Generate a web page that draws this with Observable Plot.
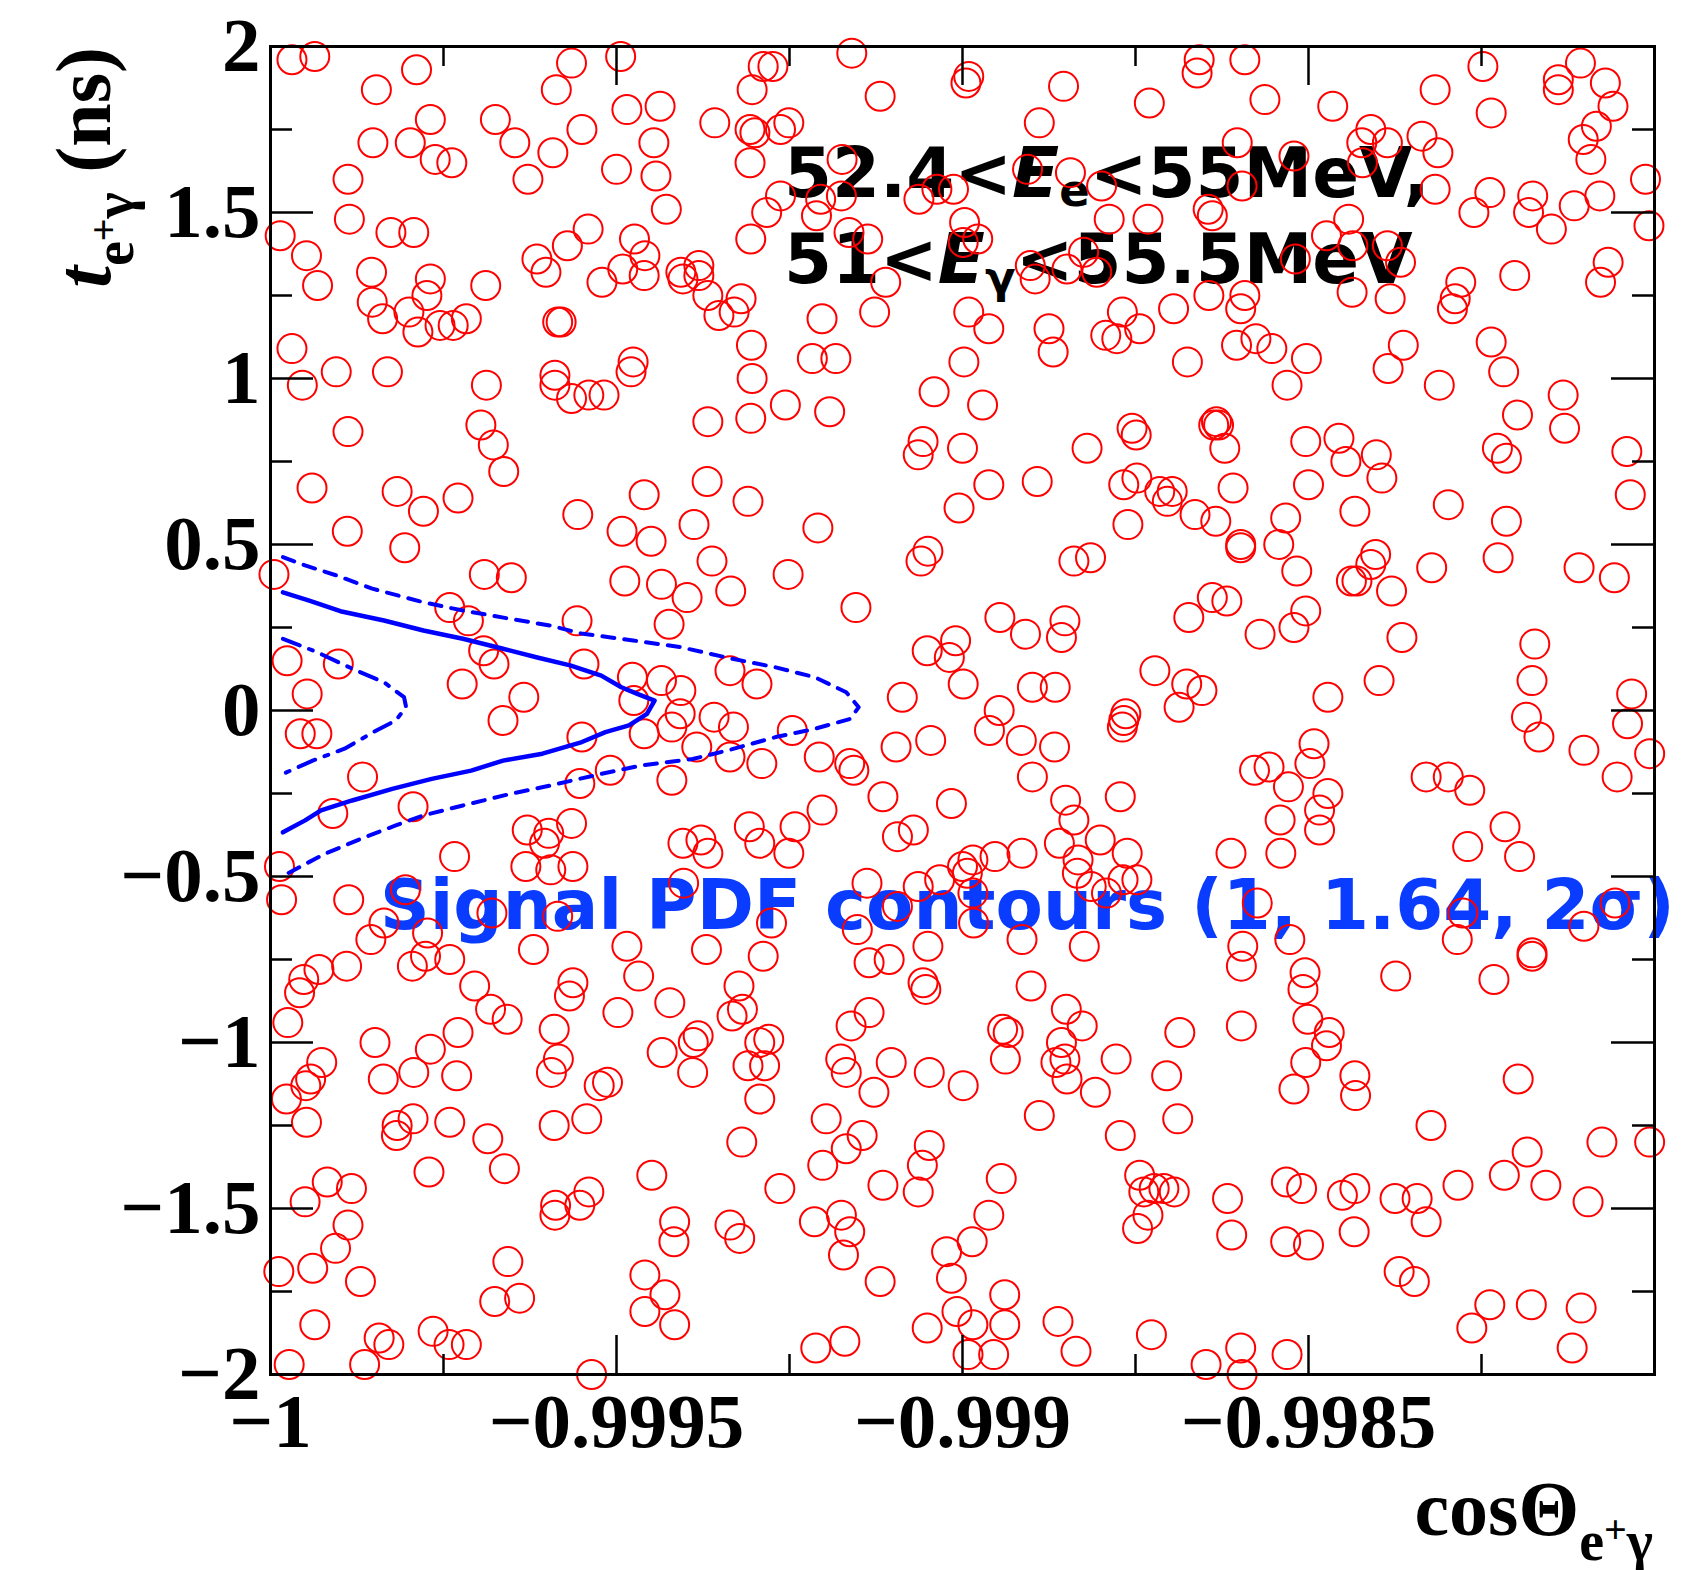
<!DOCTYPE html>
<html><head><meta charset="utf-8">
<script src="https://cdn.jsdelivr.net/npm/d3@7"></script>
<script src="https://cdn.jsdelivr.net/npm/@observablehq/plot@0.6"></script>
<style>html,body{margin:0;padding:0;background:#fff;} #chart svg{display:block;}</style>
</head><body><div id="chart"></div>
<script>
// ---- axis ticks ----
const xLabelTicks = [-1, -0.9995, -0.999, -0.9985];
const xMajorTicks = [-0.9995, -0.999, -0.9985];
const xMinorTicks = [-0.99975, -0.99925, -0.99875, -0.99825];
const yMajorTicks = [-2, -1.5, -1, -0.5, 0, 0.5, 1, 1.5, 2];
const yMinorTicks = [-1.75, -1.25, -0.75, -0.25, 0.25, 0.75, 1.25, 1.75];

// ---- events [cosTheta, t (ns)] ----
const eventsUpperLeft = [
[-0.999969,1.96],[-0.999936,1.97],[-0.999789,1.93],[-0.999847,1.87],[-0.999565,1.95],[-0.999494,1.97],[-0.999587,1.87],
[-0.999769,1.78],[-0.999675,1.78],[-0.999485,1.81],[-0.999437,1.82],[-0.999358,1.77],[-0.999852,1.71],[-0.999798,1.71],
[-0.999762,1.66],[-0.999738,1.65],[-0.999647,1.71],[-0.999592,1.68],[-0.999550,1.75],[-0.999446,1.71],[-0.999888,1.60],
[-0.999628,1.60],[-0.999500,1.63],[-0.999443,1.61],[-0.999428,1.51],[-0.999886,1.48],[-0.999986,1.43],[-0.999826,1.44],
[-0.999793,1.44],[-0.999948,1.37],[-0.999541,1.45],[-0.999571,1.40],[-0.999615,1.36],[-0.999602,1.32],[-0.999474,1.42],
[-0.999459,1.37],[-0.999491,1.33],[-0.999460,1.31],[-0.999521,1.29],[-0.999854,1.32],[-0.999769,1.30],[-0.999932,1.28],
[-0.999689,1.28],[-0.999774,1.25],[-0.999853,1.23],[-0.999800,1.20],[-0.999838,1.18],[-0.999787,1.14],[-0.999755,1.16],
[-0.999736,1.16],[-0.999717,1.18],[-0.999585,1.17],[-0.999580,1.17],[-0.999407,1.32],[-0.999381,1.34],[-0.999404,1.30],
[-0.999381,1.31],[-0.999368,1.25],[-0.999352,1.19],[-0.999969,1.09],[-0.999905,1.02],[-0.999831,1.02],[-0.999954,0.98],
[-0.999688,0.98],[-0.999589,1.01],[-0.999589,0.98],[-0.999565,0.94],[-0.999540,0.95],[-0.999518,0.95],[-0.999476,1.05],
[-0.999479,1.02],[-0.999888,0.84],[-0.999696,0.86],[-0.999678,0.80],[-0.999663,0.72],[-0.999368,0.87],[-0.999940,0.67],
[-0.999817,0.66],[-0.999779,0.60],[-0.999729,0.64],[-0.999556,0.59],[-0.999460,0.65],[-0.999369,0.69],[-0.999889,0.54],
[-0.999806,0.49],[-0.999492,0.54],[-0.999450,0.51],[-0.999388,0.56],[-0.999995,0.41],[-0.999691,0.41],[-0.999652,0.40],
[-0.999362,0.45],[-0.999488,0.39],[-0.999435,0.38],[-0.999398,0.34],[-0.999741,0.31],[-0.999714,0.27],[-0.999557,0.27],
[-0.999424,0.26],[-0.999692,0.18],[-0.999677,0.14],[-0.999547,0.14],[-0.999976,0.15],[-0.999902,0.14],[-0.999477,0.10],
[-0.999435,0.09],[-0.999407,0.06],[-0.999723,0.08],[-0.999947,0.05],[-0.999634,0.04],[-0.999475,0.03]
];
const eventsUpperMiddle = [
[-0.999160,1.98],[-0.999288,1.94],[-0.999274,1.94],[-0.999304,1.87],[-0.999119,1.85],[-0.998995,1.89],[-0.998991,1.91],
[-0.998854,1.88],[-0.998730,1.83],[-0.998889,1.77],[-0.999307,1.75],[-0.999300,1.74],[-0.999263,1.75],[-0.999251,1.77],
[-0.999307,1.65],[-0.999174,1.66],[-0.999263,1.55],[-0.999283,1.50],[-0.999205,1.54],[-0.999211,1.49],[-0.999175,1.55],
[-0.999306,1.42],[-0.999164,1.44],[-0.999137,1.42],[-0.999063,1.54],[-0.999037,1.57],[-0.999013,1.57],[-0.998997,1.47],
[-0.998999,1.41],[-0.998978,1.42],[-0.998906,1.63],[-0.998844,1.62],[-0.998799,1.58],[-0.998788,1.48],[-0.998732,1.48],
[-0.998902,1.34],[-0.998895,1.30],[-0.998849,1.33],[-0.998825,1.38],[-0.998806,1.32],[-0.999111,1.29],[-0.999127,1.20],
[-0.999203,1.18],[-0.999320,1.24],[-0.999330,1.20],[-0.998991,1.20],[-0.998962,1.15],[-0.998875,1.15],[-0.998869,1.08],
[-0.998793,1.13],[-0.998777,1.12],[-0.998769,1.20],[-0.998744,1.15],[-0.998695,1.21],[-0.998675,1.05],[-0.999305,1.10],
[-0.999304,1.00],[-0.999217,1.06],[-0.999183,1.06],[-0.999256,0.92],[-0.999306,0.88],[-0.999192,0.90],[-0.998998,1.05],
[-0.999041,0.96],[-0.998971,0.92],[-0.999057,0.81],[-0.999064,0.77],[-0.999000,0.79],[-0.998820,0.79],[-0.998755,0.85],
[-0.998749,0.83],[-0.999310,0.63],[-0.998962,0.68],[-0.998892,0.69],[-0.999005,0.61],[-0.998767,0.68],[-0.998748,0.70],
[-0.998715,0.66],[-0.998697,0.66],[-0.998704,0.63],[-0.998761,0.56],[-0.999209,0.55],[-0.999335,0.36],[-0.999252,0.41],
[-0.999050,0.48],[-0.999060,0.45],[-0.998839,0.45],[-0.998815,0.46],[-0.999154,0.31],[-0.998673,0.28],[-0.998946,0.28],
[-0.998909,0.23],[-0.998852,0.27],[-0.998857,0.22],[-0.999051,0.18],[-0.999010,0.21],[-0.999019,0.16],[-0.999336,0.12],
[-0.999297,0.08],[-0.998999,0.08],[-0.998899,0.07],[-0.998866,0.07],[-0.998722,0.12],[-0.998676,0.08],[-0.999087,0.04]
];
const eventsUpperRight = [
[-0.998658,1.96],[-0.998661,1.92],[-0.998592,1.96],[-0.998563,1.84],[-0.998465,1.82],[-0.998317,1.87],[-0.998248,1.94],
[-0.998236,1.80],[-0.998139,1.90],[-0.998139,1.87],[-0.998107,1.95],[-0.998071,1.89],[-0.998060,1.82],[-0.998084,1.76],
[-0.998103,1.72],[-0.998092,1.66],[-0.998013,1.60],[-0.998008,1.46],[-0.998603,1.71],[-0.998521,1.67],[-0.998410,1.75],
[-0.998423,1.71],[-0.998386,1.71],[-0.998422,1.65],[-0.998336,1.73],[-0.998313,1.68],[-0.998596,1.58],[-0.998317,1.57],
[-0.998238,1.56],[-0.998261,1.50],[-0.998176,1.55],[-0.998182,1.50],[-0.998149,1.45],[-0.998116,1.52],[-0.998079,1.55],
[-0.998645,1.51],[-0.998639,1.49],[-0.998442,1.48],[-0.998474,1.43],[-0.998436,1.40],[-0.998386,1.40],[-0.998367,1.35],
[-0.998519,1.36],[-0.998202,1.31],[-0.998067,1.35],[-0.998078,1.29],[-0.998280,1.29],[-0.998288,1.24],[-0.998292,1.21],
[-0.998644,1.25],[-0.998592,1.25],[-0.998598,1.21],[-0.998437,1.26],[-0.998382,1.24],[-0.998576,1.12],[-0.998604,1.10],
[-0.998553,1.09],[-0.998503,1.06],[-0.998531,0.98],[-0.998363,1.10],[-0.998385,1.03],[-0.998311,0.98],[-0.998236,1.11],
[-0.998218,1.02],[-0.998132,0.95],[-0.998198,0.89],[-0.998130,0.85],[-0.998637,0.86],[-0.998633,0.87],[-0.998630,0.86],
[-0.998621,0.79],[-0.998504,0.81],[-0.998456,0.82],[-0.998446,0.75],[-0.998402,0.77],[-0.998394,0.70],[-0.998227,0.79],
[-0.998214,0.76],[-0.998040,0.78],[-0.998035,0.65],[-0.998609,0.67],[-0.998500,0.68],[-0.998433,0.60],[-0.998298,0.62],
[-0.998214,0.57],[-0.998664,0.59],[-0.998634,0.57],[-0.998533,0.58],[-0.998598,0.50],[-0.998598,0.49],[-0.998543,0.50],
[-0.998517,0.42],[-0.998403,0.47],[-0.998410,0.44],[-0.998438,0.39],[-0.998430,0.39],[-0.998380,0.36],[-0.998322,0.43],
[-0.998226,0.46],[-0.998109,0.43],[-0.998058,0.40],[-0.998639,0.34],[-0.998618,0.33],[-0.998504,0.30],[-0.998570,0.23],
[-0.998521,0.25],[-0.998365,0.22],[-0.998173,0.20],[-0.998177,0.09],[-0.998398,0.09],[-0.998654,0.06],[-0.998472,0.04],
[-0.998033,0.05]
];
const eventsLowerLeft = [
[-0.999664,-0.03],[-0.999957,-0.07],[-0.999933,-0.07],[-0.999867,-0.20],[-0.999550,-0.08],[-0.999460,-0.07],[-0.999420,-0.05],
[-0.999408,-0.01],[-0.999359,-0.02],[-0.999384,-0.11],[-0.999420,-0.21],[-0.999509,-0.18],[-0.999553,-0.22],[-0.999910,-0.31],
[-0.999794,-0.29],[-0.999629,-0.36],[-0.999598,-0.37],[-0.999604,-0.40],[-0.999565,-0.34],[-0.999631,-0.47],[-0.999595,-0.48],
[-0.999563,-0.47],[-0.999734,-0.44],[-0.999987,-0.47],[-0.999404,-0.40],[-0.999378,-0.39],[-0.999368,-0.43],[-0.999984,-0.57],
[-0.999887,-0.57],[-0.999836,-0.64],[-0.999855,-0.69],[-0.999773,-0.67],[-0.999805,-0.54],[-0.999680,-0.61],[-0.999585,-0.62],
[-0.999776,-0.74],[-0.999795,-0.77],[-0.999741,-0.75],[-0.999930,-0.78],[-0.999952,-0.81],[-0.999958,-0.85],[-0.999890,-0.77],
[-0.999620,-0.72],[-0.999485,-0.71],[-0.999468,-0.80],[-0.999370,-0.72],[-0.999403,-0.52],[-0.999705,-0.83],[-0.999682,-0.90],
[-0.999658,-0.93],[-0.999563,-0.82],[-0.999568,-0.86],[-0.999498,-0.91],[-0.999423,-0.88],[-0.999975,-0.94],[-0.999590,-0.96],
[-0.999849,-1.00],[-0.999769,-1.02],[-0.999729,-0.97],[-0.999926,-1.06],[-0.999942,-1.11],[-0.999949,-1.13],[-0.999977,-1.17],
[-0.999837,-1.11],[-0.999793,-1.09],[-0.999731,-1.10],[-0.999584,-1.05],[-0.999594,-1.09],[-0.999525,-1.13],[-0.999513,-1.12],
[-0.999434,-1.03],[-0.999382,-0.98],[-0.999389,-1.00],[-0.999390,-1.09],[-0.999948,-1.24],[-0.999817,-1.25],[-0.999818,-1.28],
[-0.999794,-1.23],[-0.999741,-1.24],[-0.999686,-1.29],[-0.999590,-1.25],[-0.999543,-1.23],[-0.999771,-1.39],[-0.999662,-1.38],
[-0.999449,-1.40],[-0.999918,-1.42],[-0.999883,-1.44],[-0.999950,-1.48],[-0.999888,-1.55],[-0.999906,-1.62],[-0.999939,-1.68],
[-0.999988,-1.69],[-0.999870,-1.72],[-0.999588,-1.49],[-0.999589,-1.52],[-0.999553,-1.49],[-0.999540,-1.45],[-0.999416,-1.54],
[-0.999417,-1.60],[-0.999657,-1.66],[-0.999676,-1.78],[-0.999640,-1.77],[-0.999459,-1.70],[-0.999430,-1.76],[-0.999459,-1.81],
[-0.999416,-1.85],[-0.999936,-1.85],[-0.999843,-1.89],[-0.999829,-1.91],[-0.999765,-1.87],[-0.999742,-1.91],[-0.999717,-1.91],
[-0.999973,-1.97],[-0.999864,-1.97],[-0.999536,-2.00]
];
const eventsLowerMiddle = [
[-0.999331,-0.05],[-0.999336,-0.14],[-0.999290,-0.16],[-0.999246,-0.06],[-0.999207,-0.14],[-0.999163,-0.16],[-0.999157,-0.18],
[-0.999096,-0.11],[-0.999046,-0.09],[-0.999115,-0.26],[-0.999016,-0.28],[-0.998947,0.00],[-0.998961,-0.06],[-0.998915,-0.09],
[-0.998867,-0.11],[-0.998899,-0.20],[-0.998764,-0.01],[-0.998767,-0.03],[-0.998769,-0.05],[-0.998687,0.01],[-0.998851,-0.27],
[-0.998839,-0.33],[-0.998772,-0.26],[-0.998860,-0.40],[-0.998801,-0.39],[-0.998762,-0.43],[-0.998833,-0.45],[-0.998834,-0.49],
[-0.998814,-0.53],[-0.998768,-0.51],[-0.998748,-0.51],[-0.998792,-0.55],[-0.999308,-0.35],[-0.999293,-0.40],[-0.999242,-0.35],
[-0.999203,-0.30],[-0.999251,-0.43],[-0.999094,-0.38],[-0.999071,-0.36],[-0.999138,-0.52],[-0.999064,-0.53],[-0.999033,-0.51],
[-0.999000,-0.47],[-0.998993,-0.49],[-0.998985,-0.45],[-0.998953,-0.44],[-0.998914,-0.43],[-0.999276,-0.64],[-0.999152,-0.66],
[-0.999094,-0.59],[-0.998984,-0.64],[-0.998985,-0.55],[-0.998914,-0.69],[-0.998824,-0.71],[-0.999288,-0.74],[-0.999050,-0.71],
[-0.999135,-0.76],[-0.999106,-0.75],[-0.999057,-0.82],[-0.999053,-0.84],[-0.999323,-0.83],[-0.999318,-0.90],[-0.999333,-0.92],
[-0.998901,-0.83],[-0.999161,-0.95],[-0.999135,-0.91],[-0.998850,-0.90],[-0.998827,-0.95],[-0.998942,-0.96],[-0.998934,-0.97],
[-0.998938,-1.05],[-0.998857,-1.00],[-0.998865,-1.06],[-0.998852,-1.05],[-0.998849,-1.11],[-0.998808,-1.15],[-0.998778,-1.05],
[-0.998686,-0.97],[-0.998705,-1.10],[-0.998689,-1.23],[-0.998889,-1.22],[-0.998772,-1.28],[-0.999293,-1.00],[-0.999280,-0.99],
[-0.999310,-1.07],[-0.999286,-1.07],[-0.999293,-1.17],[-0.999176,-1.05],[-0.999168,-1.09],[-0.999103,-1.06],[-0.999128,-1.15],
[-0.999048,-1.09],[-0.998999,-1.13],[-0.999197,-1.23],[-0.999319,-1.30],[-0.999145,-1.28],[-0.999168,-1.32],[-0.999048,-1.31],
[-0.999058,-1.37],[-0.999202,-1.37],[-0.999115,-1.43],[-0.999064,-1.45],[-0.998944,-1.41],[-0.999264,-1.44],[-0.999336,-1.55],
[-0.999322,-1.59],[-0.999214,-1.54],[-0.999175,-1.52],[-0.999163,-1.57],[-0.999172,-1.64],[-0.999119,-1.72],[-0.999023,-1.63],
[-0.998986,-1.60],[-0.998962,-1.52],[-0.999016,-1.71],[-0.998744,-1.40],[-0.998738,-1.45],[-0.998723,-1.44],[-0.998709,-1.44],
[-0.998694,-1.45],[-0.998732,-1.52],[-0.998747,-1.56],[-0.998939,-1.76],[-0.999008,-1.81],[-0.998985,-1.85],[-0.998939,-1.85],
[-0.999051,-1.86],[-0.998862,-1.84],[-0.998836,-1.93],[-0.998727,-1.88],[-0.999212,-1.92],[-0.999170,-1.90],[-0.998992,-1.94],
[-0.998955,-1.94]
];
const eventsLowerRight = [
[-0.998185,-0.02],[-0.998167,-0.08],[-0.998102,-0.12],[-0.998039,-0.04],[-0.998007,-0.13],[-0.998054,-0.20],[-0.998492,-0.10],
[-0.998498,-0.16],[-0.998578,-0.18],[-0.998557,-0.17],[-0.998529,-0.23],[-0.998472,-0.25],[-0.998484,-0.30],[-0.998484,-0.36],
[-0.998541,-0.33],[-0.998540,-0.43],[-0.998612,-0.43],[-0.998330,-0.20],[-0.998298,-0.20],[-0.998267,-0.24],[-0.998216,-0.35],
[-0.998270,-0.41],[-0.998195,-0.44],[-0.998574,-0.58],[-0.998595,-0.71],[-0.998597,-0.77],[-0.998527,-0.69],[-0.998505,-0.79],
[-0.998508,-0.84],[-0.998501,-0.93],[-0.998470,-0.97],[-0.998474,-1.01],[-0.998504,-1.06],[-0.998521,-1.14],[-0.998433,-1.10],
[-0.998432,-1.16],[-0.998597,-0.95],[-0.998374,-0.80],[-0.998232,-0.81],[-0.998177,-0.73],[-0.998177,-0.74],[-0.998285,-0.69],
[-0.998277,-0.61],[-0.998102,-0.65],[-0.998057,-0.58],[-0.998197,-1.11],[-0.998323,-1.25],[-0.998184,-1.33],[-0.998076,-1.30],
[-0.998007,-1.30],[-0.998217,-1.40],[-0.998157,-1.43],[-0.998096,-1.48],[-0.998284,-1.43],[-0.998617,-1.47],[-0.998611,-1.58],
[-0.998532,-1.42],[-0.998510,-1.44],[-0.998451,-1.46],[-0.998433,-1.44],[-0.998375,-1.47],[-0.998343,-1.47],[-0.998330,-1.54],
[-0.998533,-1.60],[-0.998500,-1.61],[-0.998434,-1.57],[-0.998369,-1.69],[-0.998347,-1.72],[-0.998238,-1.79],[-0.998264,-1.86],
[-0.998178,-1.79],[-0.998106,-1.80],[-0.998119,-1.92],[-0.998598,-1.92],[-0.998596,-2.00],[-0.998648,-1.97],[-0.998531,-1.94]
];

// ---- signal PDF contours [cosTheta, t] ----
const contour2Sigma = [
[-0.999982,0.462],[-0.999950,0.437],[-0.999905,0.407],[-0.999853,0.367],[-0.999779,0.326],[-0.999722,0.301],[-0.999653,0.276],
[-0.999596,0.256],[-0.999551,0.232],[-0.999476,0.211],[-0.999408,0.191],[-0.999333,0.156],[-0.999270,0.130],[-0.999213,0.100],
[-0.999168,0.055],[-0.999150,0.010],[-0.999162,-0.025],[-0.999213,-0.055],[-0.999270,-0.080],[-0.999339,-0.120],[-0.999390,-0.146],
[-0.999465,-0.166],[-0.999522,-0.191],[-0.999596,-0.226],[-0.999653,-0.251],[-0.999722,-0.286],[-0.999779,-0.316],[-0.999819,-0.346],
[-0.999864,-0.382],[-0.999922,-0.432],[-0.999979,-0.495]
];
const contour164Sigma = [
[-0.999982,0.356],[-0.999944,0.331],[-0.999899,0.299],[-0.999836,0.271],[-0.999779,0.241],[-0.999722,0.216],[-0.999664,0.186],
[-0.999613,0.159],[-0.999567,0.136],[-0.999522,0.105],[-0.999493,0.070],[-0.999470,0.050],[-0.999445,0.030],[-0.999456,-0.010],
[-0.999482,-0.045],[-0.999516,-0.065],[-0.999550,-0.095],[-0.999607,-0.130],[-0.999664,-0.151],[-0.999710,-0.181],[-0.999767,-0.206],
[-0.999824,-0.236],[-0.999882,-0.271],[-0.999927,-0.301],[-0.999950,-0.331],[-0.999982,-0.367]
];
const contour1Sigma = [
[-0.999982,0.216],[-0.999933,0.176],[-0.999882,0.126],[-0.999836,0.085],[-0.999807,0.040],[-0.999804,0.010],[-0.999819,-0.030],
[-0.999847,-0.060],[-0.999893,-0.115],[-0.999939,-0.151],[-0.999982,-0.191]
];

// ---- texts ----
const annotationLine1 = ["52.4<", "E", "e", "<55MeV,"];
const annotationLine2 = ["51<", "E", "γ", "<55.5MeV"];
const contourLabel = "Signal PDF contours (1, 1.64, 2σ)";

const W = 1692, H = 1570, mL = 270, mR = 38, mT = 46, mB = 196;
const innerW = W - mL - mR, innerH = H - mT - mB;
const fmt = d => d < 0 ? "\u2212" + String(-d) : String(d);
const events = [...eventsUpperLeft, ...eventsUpperMiddle, ...eventsUpperRight,
                ...eventsLowerLeft, ...eventsLowerMiddle, ...eventsLowerRight];
const px = d => d[0], py = d => d[1];
const serif = "'Liberation Serif', 'Times New Roman', serif";
const sans = "'DejaVu Sans', sans-serif";

const chart = Plot.plot({
  width: W, height: H,
  marginLeft: mL, marginRight: mR, marginTop: mT, marginBottom: mB,
  style: {background: "white", overflow: "visible"},
  x: {domain: [-1, -0.998]},
  y: {domain: [-2, 2]},
  marks: [
    Plot.dot(events, {x: px, y: py, r: 14.5, stroke: "#ff0000", strokeWidth: 2, fill: "none"}),
    Plot.line(contour2Sigma, {x: px, y: py, stroke: "#0000ff", strokeWidth: 4, strokeDasharray: "12,10"}),
    Plot.line(contour164Sigma, {x: px, y: py, stroke: "#0000ff", strokeWidth: 4.5}),
    Plot.line(contour1Sigma, {x: px, y: py, stroke: "#0000ff", strokeWidth: 4, strokeDasharray: "18,10,4,10"}),
    Plot.tickX(xMajorTicks, {x: d => d, stroke: "black", strokeWidth: 2.5, insetTop: innerH - 39}),
    Plot.tickX(xMajorTicks, {x: d => d, stroke: "black", strokeWidth: 2.5, insetBottom: innerH - 39}),
    Plot.tickX(xMinorTicks, {x: d => d, stroke: "black", strokeWidth: 2.5, insetTop: innerH - 20}),
    Plot.tickX(xMinorTicks, {x: d => d, stroke: "black", strokeWidth: 2.5, insetBottom: innerH - 20}),
    Plot.tickY(yMajorTicks, {y: d => d, stroke: "black", strokeWidth: 2.5, insetRight: innerW - 43}),
    Plot.tickY(yMajorTicks, {y: d => d, stroke: "black", strokeWidth: 2.5, insetLeft: innerW - 43}),
    Plot.tickY(yMinorTicks, {y: d => d, stroke: "black", strokeWidth: 2.5, insetRight: innerW - 22}),
    Plot.tickY(yMinorTicks, {y: d => d, stroke: "black", strokeWidth: 2.5, insetLeft: innerW - 22}),
    Plot.frame({stroke: "black", strokeWidth: 3}),
    Plot.axisX(xLabelTicks, {anchor: "bottom", tickSize: 0, tickPadding: 18, tickFormat: fmt,
      fontSize: 77, fontWeight: "bold", fontFamily: serif, fill: "black", label: null}),
    Plot.axisY(yMajorTicks, {anchor: "left", tickSize: 0, tickPadding: 10, tickFormat: fmt,
      fontSize: 77, fontWeight: "bold", fontFamily: serif, fill: "black", label: null})
  ]
});
document.getElementById("chart").appendChild(chart);

// ---- rich text helpers ----
function richText(parent, o, parts) {
  const t = parent.append("text")
    .attr("transform", `translate(${o.x},${o.y})` + (o.rotate ? ` rotate(${o.rotate})` : ""))
    .attr("text-anchor", o.anchor || "start")
    .attr("font-family", o.family).attr("font-size", o.size)
    .attr("font-weight", "bold").attr("fill", o.fill || "black")
    .style("white-space", "pre");
  for (const p of parts) {
    const s = t.append("tspan").text(p.text);
    if (p.size) s.attr("font-size", p.size);
    if (p.dy) s.attr("dy", p.dy);
    if (p.italic) s.attr("font-style", "italic");
  }
  return t;
}
const svg = d3.select(chart);
// texts under the markers
const under = svg.insert("g", "g");
richText(under, {x: 784, y: 197, family: sans, size: 69}, [
  {text: annotationLine1[0]}, {text: annotationLine1[1], italic: true},
  {text: annotationLine1[2], size: 45, dy: 9}, {text: annotationLine1[3], dy: -9}
]);
richText(under, {x: 784, y: 283, family: sans, size: 69}, [
  {text: annotationLine2[0]}, {text: annotationLine2[1], italic: true},
  {text: annotationLine2[2], size: 45, dy: 10}, {text: annotationLine2[3], dy: -10}
]);
richText(under, {x: 380, y: 929, family: sans, size: 69, fill: "#0a3cff"}, [{text: contourLabel}]);

// axis titles
richText(svg, {x: 1653, y: 1535, family: serif, size: 78, anchor: "end"}, [
  {text: "cosΘ"}, {text: "e", size: 56, dy: 25}, {text: "+", size: 40, dy: -17}, {text: "γ", size: 56, dy: 17}
]);
richText(svg, {x: 110, y: 47, family: serif, size: 78, anchor: "end", rotate: -90}, [
  {text: "t", italic: true}, {text: "e", size: 56, dy: 23}, {text: "+", size: 40, dy: -16},
  {text: "γ", size: 56, dy: 16}, {text: " (ns)", dy: -23}
]);
</script></body></html>
